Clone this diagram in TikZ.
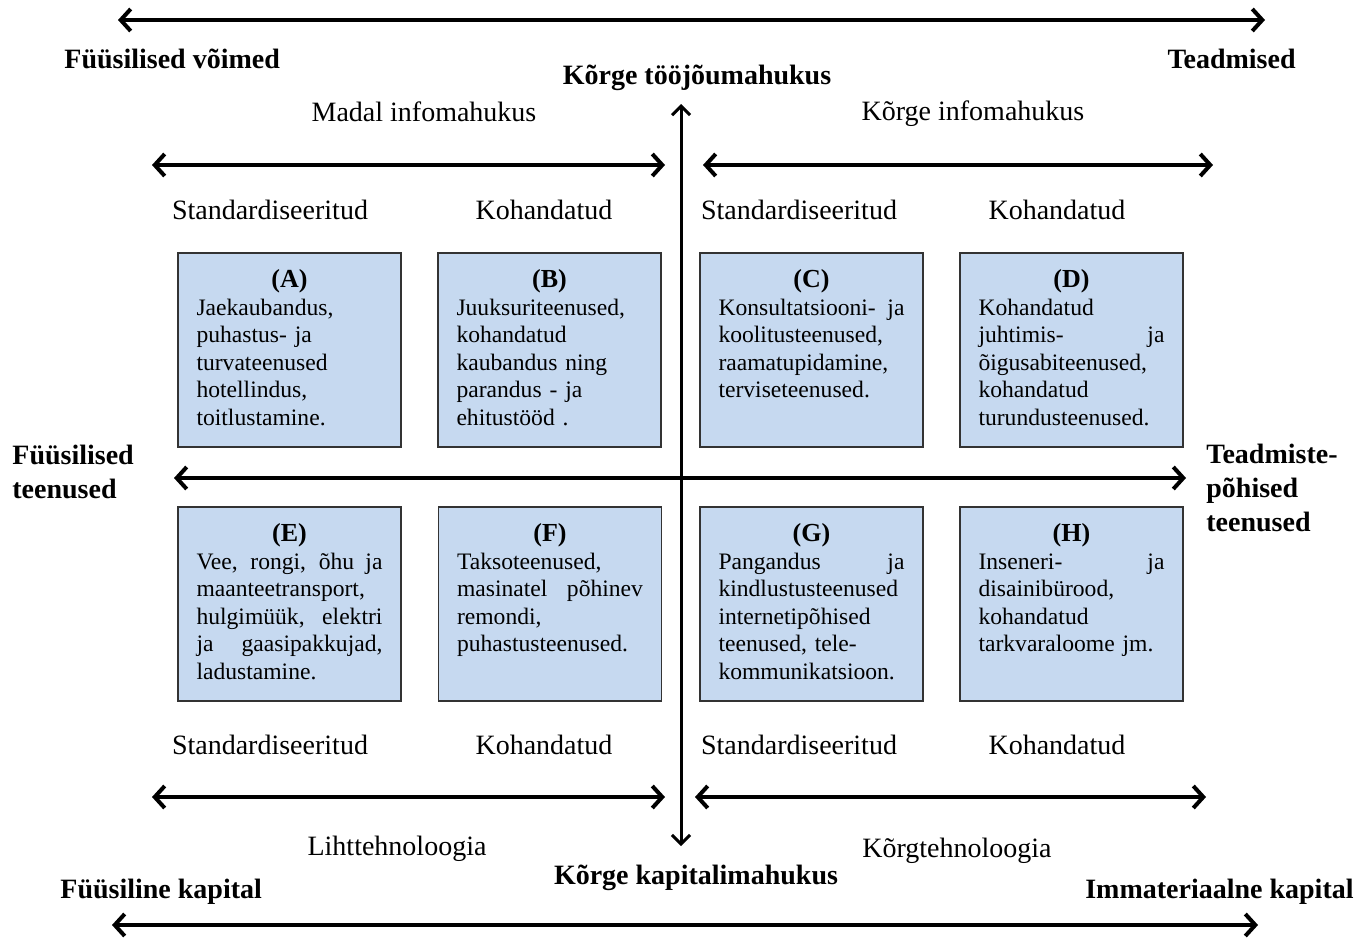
\documentclass[tikz,border=0pt]{standalone}
\usepackage{fontspec}
\setmainfont{Liberation Serif}
\usetikzlibrary{arrows.meta}
\newlength\bw
\setlength\bw{93pt}
\newcommand\jline[1]{\makebox[\bw][s]{\spaceskip=0.25em plus 1fil\relax #1}}
\newcommand\boxhead[1]{\makebox[\bw][c]{\bfseries\fontsize{13}{13.75}\selectfont #1}}
\begin{document}
\begin{tikzpicture}[x=0.5pt,y=-0.5pt,
  axis/.style={line width=2pt,{Straight Barb[length=5pt,width=11pt]}-{Straight Barb[length=5pt,width=11pt]}},
  vaxis/.style={line width=1.5pt,{Straight Barb[length=4.5pt,width=9pt]}-{Straight Barb[length=4.5pt,width=9pt]}},
  cell/.style={draw=black!80,line width=0.8pt,fill=boxblue,minimum width=111.5pt,minimum height=97pt,inner sep=0pt},
  celltext/.style={anchor=north,inner sep=0pt,text width=\bw,align=left,font=\fontsize{11.8}{13.75}\selectfont},
  lab/.style={inner sep=0pt,font=\fontsize{14}{16}\selectfont},
  blab/.style={inner sep=0pt,font=\fontsize{14}{17}\selectfont\bfseries}]
\definecolor{boxblue}{HTML}{C6D9F0}
\path[use as bounding box] (0,0) rectangle (1371,938);

% end points
\coordinate (t1) at (118,20);  \coordinate (t2) at (1265,20);
\coordinate (v1) at (681,104); \coordinate (v2) at (681,846);
\coordinate (ul1) at (152,165); \coordinate (ul2) at (665,165);
\coordinate (ur1) at (703,165); \coordinate (ur2) at (1213,165);
\coordinate (m1) at (174,478); \coordinate (m2) at (1186,478);
\coordinate (ll1) at (152,797); \coordinate (ll2) at (665,797);
\coordinate (lr1) at (695,797); \coordinate (lr2) at (1206,797);
\coordinate (b1) at (112,925); \coordinate (b2) at (1258,925);

\draw[axis] (t1) -- (t2);
\draw[axis] (ul1) -- (ul2);
\draw[axis] (ur1) -- (ur2);
\draw[axis] (ll1) -- (ll2);
\draw[axis] (lr1) -- (lr2);
\draw[axis] (b1) -- (b2);

% boxes
\node[cell] (bA) at (289.5,350) {};
\node[cell] (bB) at (549.5,350) {};
\node[cell] (bC) at (811.5,350) {};
\node[cell] (bD) at (1071.5,350) {};
\node[cell] (bE) at (289.5,604) {};
\node[cell] (bF) at (550,604) {};
\node[cell] (bG) at (811.5,604) {};
\node[cell] (bH) at (1071.5,604) {};

\draw[axis] (m1) -- (m2);
\draw[vaxis] (v1) -- (v2);

\node[celltext] (tA) at ([yshift=-8.5pt]bA.north) {\boxhead{(A)}\\Jaekaubandus,\\puhastus- ja\\turvateenused\\hotellindus,\\toitlustamine.};
\node[celltext] (tB) at ([yshift=-8.5pt]bB.north) {\boxhead{(B)}\\Juuksuriteenused,\\kohandatud\\kaubandus ning\\parandus - ja\\ehitustööd .};
\node[celltext] (tC) at ([yshift=-8.5pt]bC.north) {\boxhead{(C)}\\\jline{Konsultatsiooni- ja}\\koolitusteenused,\\raamatupidamine,\\terviseteenused.};
\node[celltext] (tD) at ([yshift=-8.5pt]bD.north) {\boxhead{(D)}\\Kohandatud\\\jline{juhtimis- ja}\\õigusabiteenused,\\kohandatud\\turundusteenused.};
\node[celltext] (tE) at ([yshift=-8.5pt]bE.north) {\boxhead{(E)}\\\jline{Vee, rongi, õhu ja}\\maanteetransport,\\\jline{hulgimüük, elektri}\\\jline{ja gaasipakkujad,}\\ladustamine.};
\node[celltext] (tF) at ([yshift=-8.5pt]bF.north) {\boxhead{(F)}\\Taksoteenused,\\\jline{masinatel põhinev}\\remondi,\\puhastusteenused.};
\node[celltext] (tG) at ([yshift=-8.5pt]bG.north) {\boxhead{(G)}\\\jline{Pangandus ja}\\kindlustusteenused\\internetipõhised\\teenused, tele-\\kommunikatsioon.};
\node[celltext] (tH) at ([yshift=-8.5pt]bH.north) {\boxhead{(H)}\\\jline{Inseneri- ja}\\disainibürood,\\kohandatud\\tarkvaraloome jm.};

% labels
\node[blab,anchor=west] (fv) at (64,59) {Füüsilised võimed};
\node[blab,anchor=east] (te) at (1296,59) {Teadmised};
\node[blab] (kt) at (697,78) {Kõrge tööjõumahukus};
\node[lab] (mi) at (424,112) {Madal infomahukus};
\node[lab] (ki) at (973,114) {Kõrge infomahukus};
\node[lab] (s1) at (270,210) {Standardiseeritud};
\node[lab] (k1) at (544,210) {Kohandatud};
\node[lab] (s2) at (799,210) {Standardiseeritud};
\node[lab] (k2) at (1057,210) {Kohandatud};
\node[blab,anchor=west,align=left] (ft) at (12,472) {Füüsilised\\teenused};
\node[blab,anchor=west,align=left] (tp) at (1206,488) {Teadmiste-\\põhised\\teenused};
\node[lab] (s3) at (270,745) {Standardiseeritud};
\node[lab] (k3) at (544,745) {Kohandatud};
\node[lab] (s4) at (799,745) {Standardiseeritud};
\node[lab] (k4) at (1057,745) {Kohandatud};
\node[lab] (lt) at (397,849) {Lihttehnoloogia};
\node[lab] (kg) at (957,851) {Kõrgtehnoloogia};
\node[blab] (kk) at (696,878) {Kõrge kapitalimahukus};
\node[blab,anchor=west] (fk) at (60,892) {Füüsiline kapital};
\node[blab,anchor=east] (ik) at (1354,892) {Immateriaalne kapital};
\end{tikzpicture}
\end{document}
